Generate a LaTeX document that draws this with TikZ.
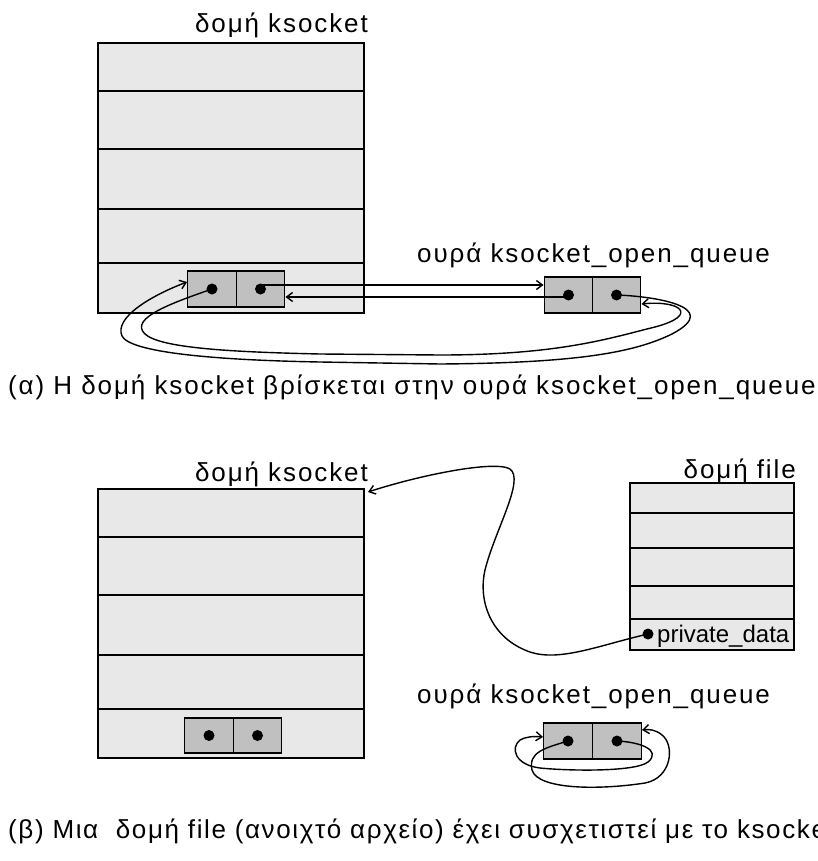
\documentclass[tikz,border=0pt]{standalone}
\usepackage{fontspec}
\setmainfont{Liberation Sans}
\newfontfamily\widefont[LetterSpace=7.3]{Liberation Sans}
\newfontfamily\capfont[LetterSpace=6.2]{Liberation Sans}
\usetikzlibrary{arrows.meta}
\definecolor{rowgray}{HTML}{E8E8E8}
\definecolor{cellgray}{HTML}{C0C0C0}
\tikzset{
  record/.style={draw, line width=1.4pt, fill=rowgray},
  cell/.style={draw, line width=1.4pt, fill=cellgray, inner sep=0pt, minimum width=48.5pt, minimum height=36pt},
  link/.style={line width=1.4pt, -{Straight Barb[length=6pt,width=9pt]}},
  label/.style={font=\widefont\fontsize{26}{31}\selectfont, inner sep=0pt},
}
\begin{document}
\begin{tikzpicture}[x=1pt, y=-1pt]
\useasboundingbox (0,0) rectangle (818,861);
% ---- (a) ksocket in the queue
\node[label, anchor=base east] (ttl1) at (368,33) {δομή ksocket};
\draw[record] (98,43) rectangle (364,313);
\foreach \y in {91,149,209,263} \draw[line width=1.4pt] (98,\y) -- (364,\y);
\node[cell] (ka) at (212,289) {};
\node[cell] (kb) at (260.5,289) {};
\node[label, anchor=base west] (qttl1) at (417,262) {ουρά ksocket\_open\_queue};
\node[cell] (qa) at (568.5,295) {};
\node[cell] (qb) at (616.5,295) {};
\foreach \n in {ka,kb,qa,qb} \fill (\n) circle (5.5pt);
\draw[link] ([yshift=4pt]kb.center) -- ([yshift=10pt]qa.west);
\draw[link] ([yshift=-2pt]qa.center) -- ([yshift=-8pt]kb.east);
% inner loop: ka -> qb
\draw[link] (ka.center) .. controls (175,302) and (128,318) .. (145,334)
  .. controls (160,348) and (230,352) .. (320,354)
  -- (440,355) .. controls (560,355) and (610,338) .. (655,327)
  .. controls (700,315) and (680,300) .. ([yshift=-9pt]qb.east);
% outer loop: qb -> ka
\draw[link] (qb.center) .. controls (650,296) and (725,306) .. (672,334)
  .. controls (635,352) and (580,363) .. (440,364)
  -- (320,362) .. controls (210,360) and (130,352) .. (122,336)
  .. controls (114,318) and (150,296) .. ([yshift=7pt]ka.west);
\node[label, anchor=base west] (cap1) at (8,394) {(α) Η δομή ksocket βρίσκεται στην ουρά ksocket\_open\_queue};
% ---- (b) a file bound to the ksocket
\node[label, anchor=base east] (ttl2) at (368,481) {δομή ksocket};
\draw[record] (98,489) rectangle (364,758);
\foreach \y in {537,595,655,709} \draw[line width=1.4pt] (98,\y) -- (364,\y);
\node[cell, minimum height=35pt] (kc) at (209,735.5) {};
\node[cell, minimum height=35pt] (kd) at (257.5,735.5) {};
\node[label, anchor=base east] (fttl) at (796,478) {δομή file};
\draw[record] (630,483) rectangle (794,650);
\foreach \y in {513,548,586,619} \draw[line width=1.4pt] (630,\y) -- (794,\y);
\node[font=\fontsize{24}{28}\selectfont, anchor=base west, inner sep=0pt] (pdata) at (657,642) {private\_data};
\coordinate (pdot) at (648,634);
\node[label, anchor=base west] (qttl2) at (417,703) {ουρά ksocket\_open\_queue};
\node[cell] (qc) at (568,741) {};
\node[cell] (qd) at (617,741) {};
\foreach \n in {kc,kd,qc,qd,pdot} \fill (\n) circle (5.5pt);
\draw[link] (pdot) .. controls (600,645) and (560,662) .. (530,652)
  .. controls (490,638) and (478,600) .. (485,570)
  .. controls (495,530) and (525,480) .. (510,469)
  .. controls (495,460) and (420,475) .. (368,492);
% small loops
\draw[link] (qc.center) .. controls (545,748) and (528,752) .. (532,770)
  .. controls (538,790) and (600,790) .. (645,783)
  .. controls (672,778) and (675,745) .. (662,735)
  .. controls (656,730) and (650,729) .. ([yshift=11pt]qd.east);
\draw[link] (qd.center) .. controls (640,742) and (662,750) .. (648,762)
  .. controls (635,772) and (570,771) .. (540,768)
  .. controls (515,765) and (510,748) .. (520,740)
  .. controls (525,737) and (533,736) .. ([yshift=4pt]qc.west);
\node[font=\capfont\fontsize{26}{31}\selectfont, inner sep=0pt, anchor=base west] (cap2) at (8,838) {(β) Μια\ \ δομή file (ανοιχτό αρχείο) έχει συσχετιστεί με το ksocket};
\end{tikzpicture}
\end{document}
